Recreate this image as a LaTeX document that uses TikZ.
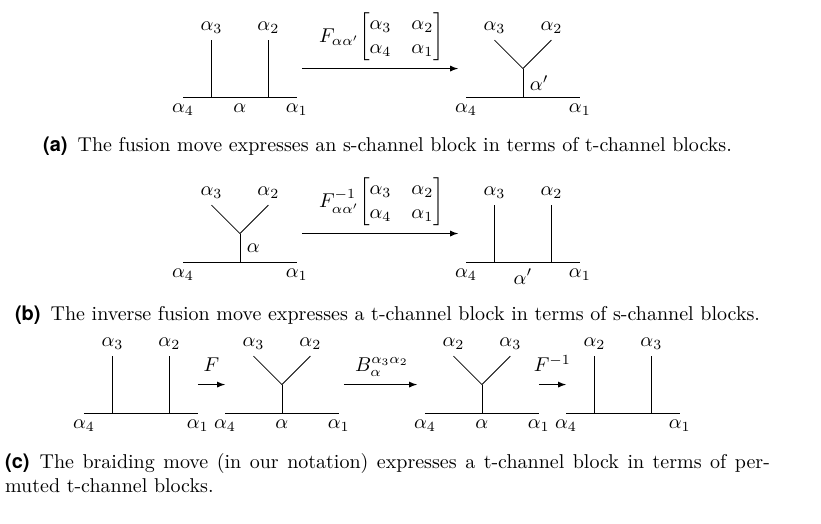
\documentclass[tikz,border=0pt]{standalone}
\usepackage[T1]{fontenc}
\IfFileExists{zplmr7m.tfm}{\usepackage{mathpazo}}{}
\usepackage{amsmath}
\usepackage{fontspec}
\setmainfont{Latin Modern Roman}
\setsansfont{TeX Gyre Heros}
\newcommand\captext{\IfFileExists{pplr8t.tfm}{\fontencoding{T1}\fontfamily{ppl}\selectfont}{}}
\begin{document}
\begin{tikzpicture}[%
      move/.style={-latex,shorten <=0.09cm,shorten >=0.14cm},
      hop/.style={-latex},
      capbox/.style={anchor=base,inner sep=0pt,text width=13.44cm,font=\captext},
      pics/schan/.style args={#1:#2:#3:#4}{code={
        \draw (0,0) coordinate (-l) -- (2,0) coordinate (-r);
        \draw (0.5,0) -- (0.5,1) node[above] (-tl) {$#1$};
        \draw (1.5,0) -- (1.5,1) node[above] (-tr) {$#2$};
        \node[below] (-bl) at (-l) {$#3$};
        \node[below] (-br) at (-r) {$#4$};
        \coordinate (-m) at (1,0);
        \coordinate (-w) at (0,0.5);
        \coordinate (-e) at (2,0.5);}},
      pics/tchan/.style args={#1:#2:#3:#4}{code={
        \draw (0,0) coordinate (-l) -- (2,0) coordinate (-r);
        \draw (1,0) coordinate (-m) -- (1,0.5) coordinate (-v);
        \draw (-v) -- (0.5,1) node[above] (-tl) {$#1$};
        \draw (-v) -- (1.5,1) node[above] (-tr) {$#2$};
        \node[below] (-bl) at (-l) {$#3$};
        \node[below] (-br) at (-r) {$#4$};
        \coordinate (-s) at (1,0.25);
        \coordinate (-w) at (0,0.5);
        \coordinate (-e) at (2,0.5);}}
      ]
      \useasboundingbox (0,0) rectangle (14.427,9.191);
      \pic (a1) at (3.216,7.486) {schan=\alpha_3:\alpha_2:\alpha_4:\alpha_1};
      \node[below] (a1-x) at (a1-m) {$\alpha$};
      \pic (a2) at (8.189,7.486) {tchan=\alpha_3:\alpha_2:\alpha_4:\alpha_1};
      \node[right] (a2-x) at (a2-s) {$\alpha'$};
      \draw[move] (a1-e) -- (a2-w) node[midway,above=3.5pt,inner sep=0pt] (fa) {$F_{\alpha\alpha'}\!\begin{bmatrix}\alpha_3 & \alpha_2\\ \alpha_4 & \alpha_1\end{bmatrix}$};
      \node[capbox,align=center] (capa) at (6.81,6.52) {\textsf{\textbf{(a)}}\enspace The fusion move expresses an s-channel block in terms of t-channel blocks.};

      \pic (b1) at (3.216,4.587) {tchan=\alpha_3:\alpha_2:\alpha_4:\alpha_1};
      \node[right] (b1-x) at (b1-s) {$\alpha$};
      \pic (b2) at (8.189,4.587) {schan=\alpha_3:\alpha_2:\alpha_4:\alpha_1};
      \node[below] (b2-x) at (b2-m) {$\alpha'$};
      \draw[move] (b1-e) -- (b2-w) node[midway,above=3.5pt,inner sep=0pt] (fb) {$F^{-1}_{\alpha\alpha'}\!\begin{bmatrix}\alpha_3 & \alpha_2\\ \alpha_4 & \alpha_1\end{bmatrix}$};
      \node[capbox,align=center] (capb) at (6.81,3.567) {\textsf{\textbf{(b)}}\enspace The inverse fusion move expresses a t-channel block in terms of s-channel blocks.};

      \pic (c1) at (1.476,1.933) {schan=\alpha_3:\alpha_2:\alpha_4:\alpha_1};
      \pic (c2) at (3.954,1.933) {tchan=\alpha_3:\alpha_2:\alpha_4:\alpha_1};
      \node[below] (c2-x) at (c2-m) {$\alpha$};
      \pic (c3) at (7.468,1.933) {tchan=\alpha_2:\alpha_3:\alpha_4:\alpha_1};
      \node[below] (c3-x) at (c3-m) {$\alpha$};
      \pic (c4) at (9.946,1.933) {schan=\alpha_2:\alpha_3:\alpha_4:\alpha_1};
      \draw[hop] (c1-e) -- (c2-w) node[midway,above=3pt] (fc) {$F$};
      \draw[move] (c2-e) -- (c3-w) node[midway,above=4pt,inner sep=0pt] (bc) {$B^{\alpha_3\alpha_2}_{\alpha}$};
      \draw[hop] (c3-e) -- (c4-w) node[midway,above=3pt] (gc) {$F^{-1}$};
      \node[capbox,align=justify] (capc) at (6.81,0.967) {\textsf{\textbf{(c)}}\enspace The braiding move (in our notation) expresses a t-channel block in terms of per-\linebreak muted t-channel blocks.};
    \end{tikzpicture}
\end{document}
